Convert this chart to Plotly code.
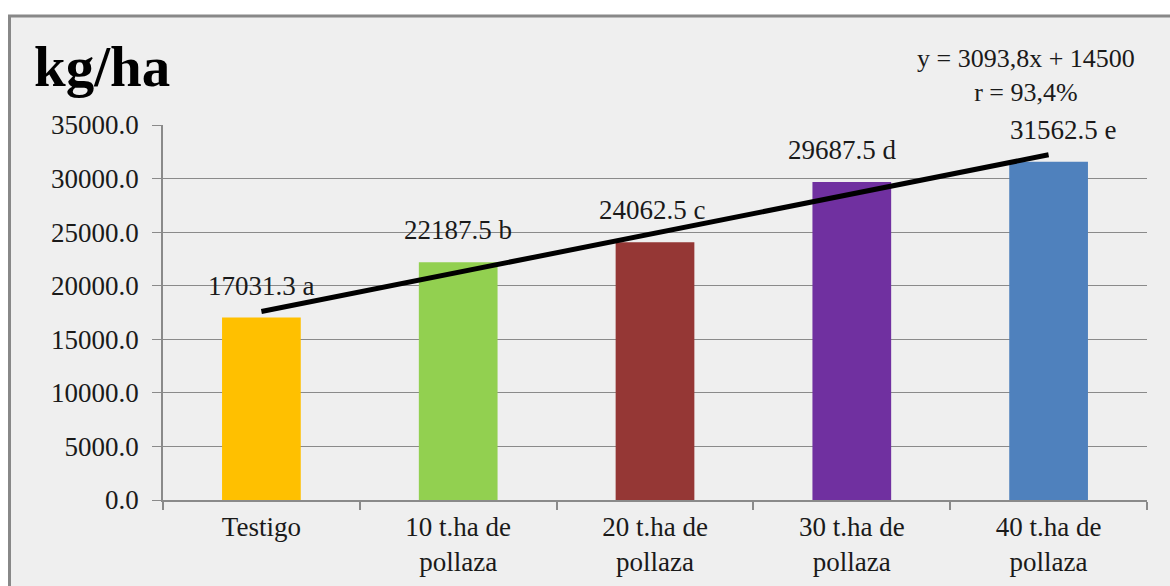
import numpy as np
import plotly.graph_objects as go

# Yield per treatment (kg/ha)
categories = ["Testigo", "10 t.ha de<br>pollaza", "20 t.ha de<br>pollaza",
              "30 t.ha de<br>pollaza", "40 t.ha de<br>pollaza"]
yields = [17031.3, 22187.5, 24062.5, 29687.5, 31562.5]
letters = ["a", "b", "c", "d", "e"]
bar_colors = ["#FFC000", "#92D050", "#953735", "#7030A0", "#4F81BD"]
label_xshift = [0, 0, -3, -9, 15]
y_ticks = [0, 5000, 10000, 15000, 20000, 25000, 30000, 35000]
equation_text = "y = 3093,8x + 14500<br>r = 93,4%"

# Linear trend through the treatment means
xs = np.arange(1, len(yields) + 1)
slope, intercept = np.polyfit(xs, yields, 1)
trend = slope * xs + intercept

FONT = "Liberation Serif"
GRAY = "#8a8a8a"
TXT = "#1a1a1a"

W, H = 1170, 586
L, R, T, B = 163, 23, 125, 86
pw, ph = W - L - R, H - T - B


def px(x):
    return (x - L) / pw


def py(y):
    return (H - B - y) / ph


fig = go.Figure()
fig.add_trace(go.Bar(
    x=categories, y=yields, marker=dict(color=bar_colors, line=dict(width=0)),
    showlegend=False, hoverinfo="skip",
))
fig.add_trace(go.Scatter(
    x=categories, y=trend, mode="lines",
    line=dict(color="black", width=5), showlegend=False, hoverinfo="skip",
))

annotations = []
for cat, val, let, dx in zip(categories, yields, letters, label_xshift):
    annotations.append(dict(
        x=cat, y=val, text=f"{val:.1f} {let}", showarrow=False,
        xanchor="center", yanchor="bottom", yshift=15, xshift=dx,
        font=dict(family=FONT, size=27, color=TXT),
    ))
annotations.append(dict(
    xref="paper", yref="paper", x=px(32), y=py(66), text="<b>kg/ha</b>",
    showarrow=False, xanchor="left", yanchor="middle",
    font=dict(family=FONT, size=57, color="black"),
))
annotations.append(dict(
    xref="paper", yref="paper", x=px(1026), y=py(75), text=equation_text,
    showarrow=False, xanchor="center", yanchor="middle", align="center",
    font=dict(family=FONT, size=26, color=TXT),
))

fig.update_layout(
    width=W, height=H,
    margin=dict(l=L, r=R, t=T, b=B, pad=0, autoexpand=False),
    paper_bgcolor="white", plot_bgcolor="#efefef",
    bargap=0.6,
    annotations=annotations,
    shapes=[dict(
        type="rect", xref="paper", yref="paper", layer="below",
        x0=px(9.5), x1=px(1200), y0=py(16), y1=py(620),
        line=dict(color="#888888", width=3), fillcolor="#efefef",
    )],
    xaxis=dict(
        type="category", showgrid=False, showline=True, linecolor=GRAY,
        linewidth=1.5, ticks="outside", tickson="boundaries", ticklen=8,
        tickcolor=GRAY, tickwidth=1.5, ticklabelstandoff=2, automargin=False,
        tickfont=dict(family=FONT, size=27, color=TXT),
    ),
    yaxis=dict(
        range=[0, 35000], tickvals=y_ticks, tickformat=".1f",
        showgrid=True, gridcolor=GRAY, gridwidth=1.2,
        showline=True, linecolor=GRAY, linewidth=1.5,
        ticks="outside", ticklen=9, tickcolor=GRAY, tickwidth=1.2,
        ticklabelstandoff=8, zeroline=False, automargin=False,
        tickfont=dict(family=FONT, size=27, color=TXT),
    ),
)

fig.write_html("out.html")
